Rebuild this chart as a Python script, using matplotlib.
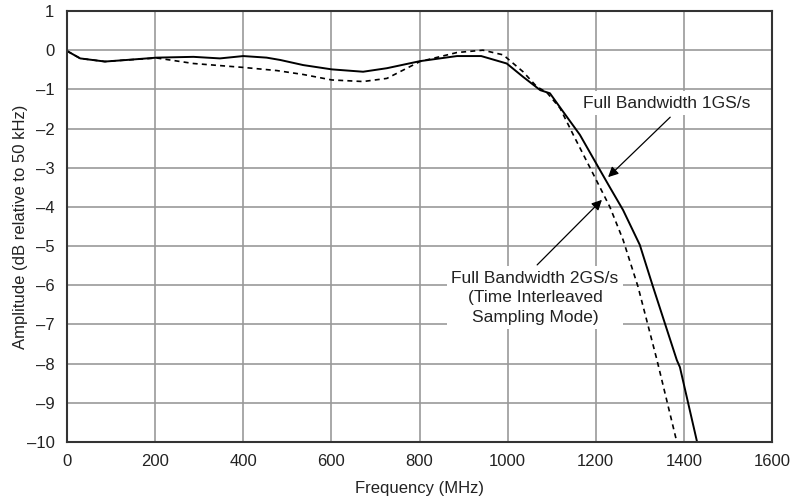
import matplotlib.pyplot as plt

# Full bandwidth, 1GS/s (solid)
freq_1gs = [0, 30, 86, 135, 204, 287, 347, 400, 453, 484, 536, 601, 672, 726, 801, 885,
            940, 998, 1035, 1074, 1096, 1126, 1164, 1203, 1232, 1262, 1300, 1330, 1384,
            1391, 1430]
amp_1gs = [-0.02, -0.21, -0.29, -0.25, -0.19, -0.17, -0.21, -0.15, -0.19, -0.25, -0.38,
           -0.49, -0.55, -0.46, -0.28, -0.15, -0.15, -0.34, -0.68, -1.02, -1.1, -1.57,
           -2.16, -2.93, -3.5, -4.08, -4.97, -6.04, -7.91, -8.09, -10.0]

# Full bandwidth, 2GS/s time interleaved (dashed)
freq_2gs = [0, 30, 86, 135, 204, 287, 400, 476, 536, 601, 672, 726, 801, 885, 944, 990,
            1035, 1066, 1089, 1119, 1149, 1187, 1232, 1262, 1296, 1339, 1384]
amp_2gs = [-0.02, -0.21, -0.29, -0.25, -0.2, -0.34, -0.44, -0.52, -0.62, -0.76, -0.8,
           -0.72, -0.29, -0.06, 0.0, -0.12, -0.55, -0.93, -1.08, -1.48, -2.16, -3.0,
           -4.0, -4.84, -6.04, -7.91, -10.0]

x_ticks = [0, 200, 400, 600, 800, 1000, 1200, 1400, 1600]
y_ticks = [1, 0, -1, -2, -3, -4, -5, -6, -7, -8, -9, -10]

plt.rcParams['font.family'] = ['Liberation Sans', 'DejaVu Sans']
txt = '#222222'

fig = plt.figure(figsize=(7.94, 5.04), dpi=100)
ax = fig.add_axes([67 / 794, 1 - 442 / 504, 705 / 794, 431 / 504])

ax.plot(freq_2gs, amp_2gs, color='black', linestyle=(0, (3, 2.5)), linewidth=1.2)
ax.plot(freq_1gs, amp_1gs, color='black', linestyle='-', linewidth=1.4)

ax.set_xlim(0, 1600)
ax.set_ylim(-10, 1)
ax.set_xticks(x_ticks)
ax.set_yticks(y_ticks)
ax.set_yticklabels([str(v).replace('-', '\u2013') for v in y_ticks])
ax.tick_params(length=0, labelsize=12, colors=txt, pad=9)
ax.grid(True, color='#999999', linewidth=1.2)
ax.set_axisbelow(True)
for s in ax.spines.values():
    s.set_color('#333333')
    s.set_linewidth(1.5)

ax.set_xlabel('Frequency (MHz)', fontsize=12, color=txt, labelpad=8)
ax.set_ylabel('Amplitude (dB relative to 50 kHz)', fontsize=12, color=txt, labelpad=-1)

box = dict(facecolor='white', edgecolor='none', pad=3)
arrow = dict(arrowstyle='-|>', color='black', lw=0.9, mutation_scale=15,
             shrinkA=0, shrinkB=0)

ax.text(1362, -1.35, 'Full Bandwidth 1GS/s', fontsize=12.5, color=txt,
        ha='center', va='center', bbox=box)
ax.annotate('', xy=(1228, -3.24), xytext=(1369, -1.71), arrowprops=arrow)

ax.text(1062, -6.32, 'Full Bandwidth 2GS/s\n(Time Interleaved\nSampling Mode)',
        fontsize=12.5, color=txt, ha='center', va='center', bbox=box,
        linespacing=1.4)
ax.annotate('', xy=(1214, -3.82), xytext=(1067, -5.48), arrowprops=arrow)

fig.savefig('out.png', dpi=100)
